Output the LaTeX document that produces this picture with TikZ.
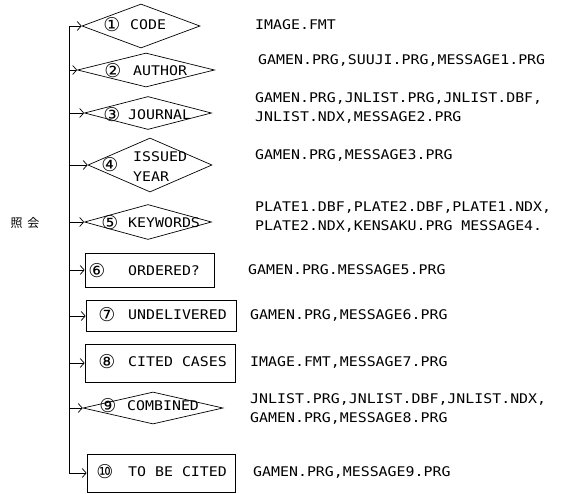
\documentclass[tikz,border=0pt]{standalone}
\usepackage{fontspec}
\usetikzlibrary{shapes.geometric,arrows.meta}
\newfontfamily\dmono[FakeStretch=1.12]{DejaVu Sans Mono}
\newfontfamily\circfont{DejaVu Sans}
\newfontfamily\cjkfont{Noto Sans CJK JP}
\tikzset{
  shp/.style={draw, line width=0.7pt, inner sep=0pt},
  dia/.style={shp, diamond},
  box/.style={shp, rectangle},
  word/.style={font=\dmono\fontsize{13.3}{19}\selectfont, inner sep=0pt, anchor=west},
  cnum/.style={font=\circfont\fontsize{19}{20}\selectfont, inner sep=0pt},
  files/.style={font=\dmono\fontsize{13.3}{19}\selectfont, inner sep=0pt, anchor=west, align=left},
  trunk/.style={line width=0.8pt},
  branch/.style={line width=0.7pt, -{Straight Barb[length=4pt,width=9pt,line width=0.7pt]}}
}
\begin{document}
\begin{tikzpicture}[x=1pt,y=-1pt]
\useasboundingbox (0,0) rectangle (567,493);
% shapes
\node[dia, minimum width=118pt, minimum height=44pt] (s1) at (141,26) {};
\node[dia, minimum width=137pt, minimum height=34pt] (s2) at (146,70) {};
\node[dia, minimum width=127pt, minimum height=33pt] (s3) at (148,113) {};
\node[dia, minimum width=124pt, minimum height=54pt] (s4) at (150,165) {};
\node[dia, minimum width=127pt, minimum height=35pt] (s5) at (148,222) {};
\node[box, minimum width=129pt, minimum height=34pt] (s6) at (149.5,270) {};
\node[box, minimum width=150pt, minimum height=31pt] (s7) at (161,316) {};
\node[box, minimum width=150pt, minimum height=38pt] (s8) at (160,363) {};
\node[dia, minimum width=140pt, minimum height=32pt] (s9) at (153,408) {};
\node[box, minimum width=148pt, minimum height=38pt] (s10) at (161,473) {};
% labels in shapes
\node[cnum] (n1) at (112,25) {①};  \node[word] (w1) at (130,25) {CODE};
\node[cnum] (n2) at (113,71) {②};  \node[word] (w2) at (133,71) {AUTHOR};
\node[cnum] (n3) at (112,115) {③}; \node[word] (w3) at (128,115) {JOURNAL};
\node[cnum] (n4) at (110,165) {④}; \node[word] (w4a) at (133,157) {ISSUED};
\node[word] (w4b) at (133,177) {YEAR};
\node[cnum] (n5) at (110,223) {⑤}; \node[word] (w5) at (128,223) {KEYWORDS};
\node[cnum] (n6) at (97,271) {⑥};  \node[word] (w6) at (128,271) {ORDERED?};
\node[cnum] (n7) at (107,315) {⑦}; \node[word] (w7) at (128,315) {UNDELIVERED};
\node[cnum] (n8) at (107,362) {⑧}; \node[word] (w8) at (128,362) {CITED CASES};
\node[cnum] (n9) at (108,406) {⑨}; \node[word] (w9) at (127,406) {COMBINED};
\node[cnum] (n10) at (105,472) {⑩}; \node[word] (w10) at (128,472) {TO BE CITED};
% file lists
\node[files] (f1) at (255,25) {IMAGE.FMT};
\node[files] (f2) at (258,60) {GAMEN.PRG,SUUJI.PRG,MESSAGE1.PRG};
\node[files] (f3) at (255,108) {GAMEN.PRG,JNLIST.PRG,JNLIST.DBF,\\JNLIST.NDX,MESSAGE2.PRG};
\node[files] (f4) at (255,155) {GAMEN.PRG,MESSAGE3.PRG};
\node[files] (f5) at (255,217) {PLATE1.DBF,PLATE2.DBF,PLATE1.NDX,\\PLATE2.NDX,KENSAKU.PRG MESSAGE4.};
\node[files] (f6) at (248,270) {GAMEN.PRG.MESSAGE5.PRG};
\node[files] (f7) at (250,315) {GAMEN.PRG,MESSAGE6.PRG};
\node[files] (f8) at (250,362) {IMAGE.FMT,MESSAGE7.PRG};
\node[files] (f9) at (250,409) {JNLIST.PRG,JNLIST.DBF,JNLIST.NDX,\\GAMEN.PRG,MESSAGE8.PRG};
\node[files] (f10) at (253,472) {GAMEN.PRG,MESSAGE9.PRG};
% side label
\node[font=\cjkfont\fontsize{12}{14}\selectfont, inner sep=0pt] (lab) at (25,223) {照\hspace{5pt}会};
% trunk
\coordinate (ttop) at (69,26);
\coordinate (tbot) at (69,473);
\draw[trunk] (ttop) -- (tbot);
\foreach \s in {s1,s2,s3,s4,s5,s6,s7,s8,s9,s10}{
  \draw[branch] (ttop |- \s.west) -- (\s.west);
}
\end{tikzpicture}
\end{document}
